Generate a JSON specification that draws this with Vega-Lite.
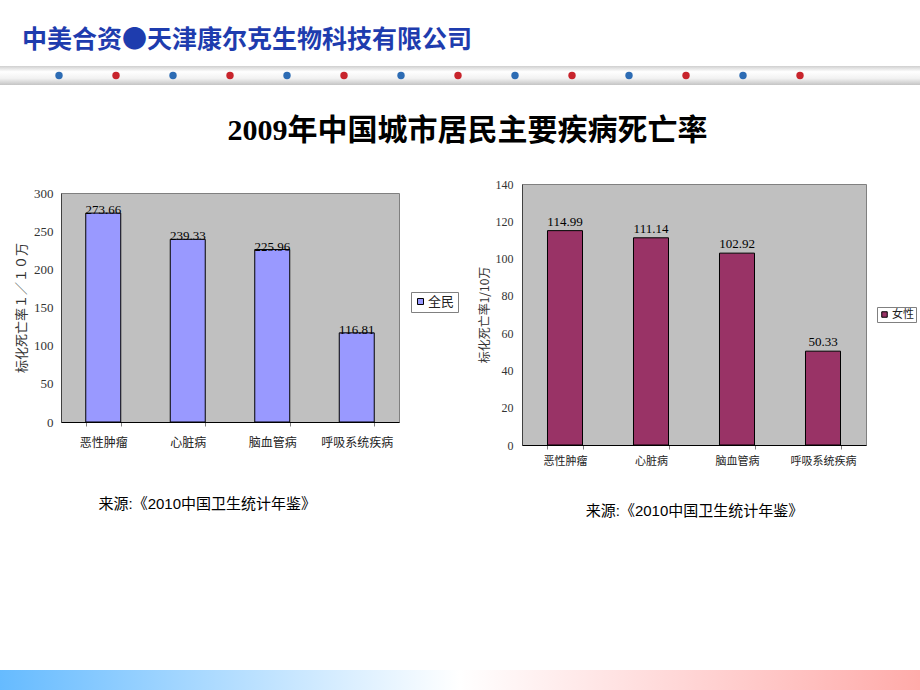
{
  "$schema": "https://vega.github.io/schema/vega-lite/v6.json",
  "background": "white",
  "padding": {"left": 0, "top": 28, "right": 0, "bottom": 0},
  "spacing": 151,
  "resolve": {"scale": {"color": "independent", "x": "independent", "y": "independent"}, "legend": {"color": "independent"}},
  "config": {
    "view": {"stroke": null},
    "axis": {"grid": false},
    "font": "Noto Sans CJK SC"
  },
  "vconcat": [
    {
      "spacing": 32,
      "resolve": {"scale": {"color": "independent", "x": "independent", "y": "independent"}, "legend": {"color": "independent"}},
      "vconcat": [
        {
          "width": 859,
          "height": 19,
          "title": {
            "text": "中美合资●天津康尔克生物科技有限公司",
            "anchor": "start",
            "frame": "group",
            "dx": -39,
            "offset": 13,
            "fontSize": 25,
            "font": "Noto Sans CJK SC",
            "fontWeight": "bold",
            "color": "#1e3cae"
          },
          "view": {"stroke": null},
          "layer": [
            {
              "data": {"values": [{"band": "header"}]},
              "mark": {
                "type": "rect",
                "color": {
                  "gradient": "linear",
                  "x1": 0, "y1": 0, "x2": 0, "y2": 1,
                  "stops": [
                    {"offset": 0, "color": "#cfcfcf"},
                    {"offset": 0.3, "color": "#ffffff"},
                    {"offset": 0.65, "color": "#f2f2f2"},
                    {"offset": 1, "color": "#c4c4c4"}
                  ]
                }
              },
              "encoding": {
                "x": {"datum": -0.035},
                "x2": {"datum": 16.105},
                "y": {"datum": 0},
                "y2": {"datum": 1}
              }
            },
            {
              "data": {
                "values": [
                  {"i": 1, "kind": "blue"}, {"i": 2, "kind": "red"}, {"i": 3, "kind": "blue"}, {"i": 4, "kind": "red"},
                  {"i": 5, "kind": "blue"}, {"i": 6, "kind": "red"}, {"i": 7, "kind": "blue"}, {"i": 8, "kind": "red"},
                  {"i": 9, "kind": "blue"}, {"i": 10, "kind": "red"}, {"i": 11, "kind": "blue"}, {"i": 12, "kind": "red"},
                  {"i": 13, "kind": "blue"}, {"i": 14, "kind": "red"}
                ]
              },
              "mark": {"type": "circle", "size": 55, "opacity": 1},
              "encoding": {
                "x": {"field": "i", "type": "quantitative"},
                "y": {"datum": 0.5},
                "color": {
                  "field": "kind",
                  "type": "nominal",
                  "scale": {"domain": ["blue", "red"], "range": ["#2d6cb4", "#c8242c"]},
                  "legend": null
                }
              }
            }
          ],
          "encoding": {
            "x": {
              "type": "quantitative",
              "scale": {"domain": [1.035, 16.105], "nice": false, "zero": false},
              "axis": {
                "title": "2009年中国城市居民主要疾病死亡率",
                "labels": false, "ticks": false, "domain": false, "grid": false,
                "titleFont": "'Liberation Serif', 'Noto Sans CJK SC'",
                "titleFontSize": 30,
                "titleFontWeight": "bold",
                "titleColor": "#000000",
                "titlePadding": 30,
                "titleX": 406
              }
            },
            "y": {
              "type": "quantitative",
              "scale": {"domain": [0, 1], "nice": false},
              "axis": null
            }
          }
        },
        {
          "resolve": {"scale": {"color": "independent"}, "legend": {"color": "independent"}},
          "spacing": 18,
          "hconcat": [
            {
              "spacing": 1,
              "vconcat": [
                {
                  "width": 338,
                  "height": 1,
                  "data": {"values": [{"spacer": 0}]},
                  "mark": {"type": "point", "opacity": 0, "size": 0, "strokeWidth": 0},
                  "encoding": {}
                },
                {
                  "width": 338,
                  "height": 229,
                  "view": {"fill": "#c0c0c0", "stroke": "#808080", "strokeWidth": 1},
                  "data": {
                    "values": [
                      {"disease": "恶性肿瘤", "rate": 273.66, "group": "全民"},
                      {"disease": "心脏病", "rate": 239.33, "group": "全民"},
                      {"disease": "脑血管病", "rate": 225.96, "group": "全民"},
                      {"disease": "呼吸系统疾病", "rate": 116.81, "group": "全民"}
                    ]
                  },
                  "encoding": {
                    "x": {
                      "field": "disease",
                      "type": "nominal",
                      "sort": null,
                      "scale": {"paddingInner": 0.586, "paddingOuter": 0.293},
                      "axis": {
                        "labelAngle": 0,
                        "labelFontSize": 12,
                        "labelFont": "Noto Sans CJK SC",
                        "labelColor": "#222222",
                        "labelPadding": 11,
                        "domainColor": "#000000",
                        "tickBand": "extent",
                        "tickColor": "#808080",
                        "tickSize": 4,
                        "title": "来源:《2010中国卫生统计年鉴》",
                        "titleFont": "'Liberation Sans', 'Noto Sans CJK SC'",
                        "titleFontSize": 15,
                        "titleFontWeight": "normal",
                        "titleColor": "#000000",
                        "titleAnchor": "start",
                        "titleX": 37,
                        "titlePadding": 48
                      }
                    },
                    "y": {
                      "field": "rate",
                      "type": "quantitative",
                      "scale": {"domain": [0, 300], "nice": false},
                      "axis": {
                        "values": [0, 50, 100, 150, 200, 250, 300],
                        "labelFont": "Liberation Serif",
                        "labelFontSize": 13,
                        "labelColor": "#333333",
                        "labelPadding": 8,
                        "ticks": false,
                        "domainColor": "#404040",
                        "title": "标化死亡率１／１０万",
                        "titleFont": "Noto Sans CJK SC",
                        "titleFontSize": 13,
                        "titleFontWeight": "normal",
                        "titleColor": "#333333",
                        "titlePadding": 5
                      }
                    }
                  },
                  "layer": [
                    {
                      "mark": {"type": "bar", "stroke": "#000000", "strokeWidth": 1},
                      "encoding": {
                        "color": {
                          "field": "group",
                          "type": "nominal",
                          "scale": {"range": ["#9999ff"]},
                          "legend": {
                            "title": null,
                            "orient": "none",
                            "legendX": 350,
                            "legendY": 108,
                            "fillColor": "#ffffff",
                            "strokeColor": "#808080",
                            "padding": 3,
                            "symbolType": "square",
                            "symbolSize": 36,
                            "symbolStrokeColor": "#000000",
                            "symbolStrokeWidth": 1,
                            "labelOffset": 1,
                            "labelFont": "Noto Sans CJK SC",
                            "labelFontSize": 13,
                            "labelColor": "#222222"
                          }
                        }
                      }
                    },
                    {
                      "mark": {"type": "text", "baseline": "alphabetic", "dy": 1, "font": "Liberation Serif", "fontSize": 13, "color": "#000000"},
                      "encoding": {"text": {"field": "rate", "type": "quantitative", "format": ".2f"}}
                    }
                  ]
                }
              ]
            },
            {
              "width": 344,
              "height": 261,
              "view": {"fill": "#c0c0c0", "stroke": "#808080", "strokeWidth": 1},
              "data": {
                "values": [
                  {"disease": "恶性肿瘤", "rate": 114.99, "group": "女性"},
                  {"disease": "心脏病", "rate": 111.14, "group": "女性"},
                  {"disease": "脑血管病", "rate": 102.92, "group": "女性"},
                  {"disease": "呼吸系统疾病", "rate": 50.33, "group": "女性"}
                ]
              },
              "encoding": {
                "x": {
                  "field": "disease",
                  "type": "nominal",
                  "sort": null,
                  "scale": {"paddingInner": 0.593, "paddingOuter": 0.2965},
                  "axis": {
                    "labelAngle": 0,
                    "labelFontSize": 11,
                    "labelFont": "Noto Sans CJK SC",
                    "labelColor": "#222222",
                    "labelPadding": 6,
                    "domainColor": "#000000",
                    "tickBand": "extent",
                    "tickColor": "#808080",
                    "tickSize": 4,
                    "title": "来源:《2010中国卫生统计年鉴》",
                    "titleFont": "'Liberation Sans', 'Noto Sans CJK SC'",
                    "titleFontSize": 15,
                    "titleFontWeight": "normal",
                    "titleColor": "#000000",
                    "titlePadding": 37
                  }
                },
                "y": {
                  "field": "rate",
                  "type": "quantitative",
                  "scale": {"domain": [0, 140], "nice": false},
                  "axis": {
                    "values": [0, 20, 40, 60, 80, 100, 120, 140],
                    "labelFont": "Liberation Serif",
                    "labelFontSize": 12,
                    "labelColor": "#333333",
                    "labelPadding": 9,
                    "ticks": false,
                    "domainColor": "#404040",
                    "title": "标化死亡率1/10万",
                    "titleFont": "Noto Sans CJK SC",
                    "titleFontSize": 12,
                    "titleFontWeight": "normal",
                    "titleColor": "#333333",
                    "titlePadding": 4
                  }
                }
              },
              "layer": [
                {
                  "mark": {"type": "bar", "stroke": "#000000", "strokeWidth": 1},
                  "encoding": {
                    "color": {
                      "field": "group",
                      "type": "nominal",
                      "scale": {"range": ["#993366"]},
                      "legend": {
                        "title": null,
                        "orient": "none",
                        "legendX": 355,
                        "legendY": 123,
                        "fillColor": "#ffffff",
                        "strokeColor": "#808080",
                        "padding": 2,
                        "symbolType": "square",
                        "symbolSize": 30,
                        "symbolStrokeColor": "#000000",
                        "symbolStrokeWidth": 1,
                        "labelOffset": 2,
                        "labelFont": "Noto Sans CJK SC",
                        "labelFontSize": 11,
                        "labelColor": "#222222"
                      }
                    }
                  }
                },
                {
                  "mark": {"type": "text", "baseline": "alphabetic", "dy": -5, "font": "Liberation Serif", "fontSize": 13, "color": "#000000"},
                  "encoding": {"text": {"field": "rate", "type": "quantitative", "format": ".2f"}}
                }
              ]
            }
          ]
        }
      ]
    },
    {
      "width": 859,
      "height": 20,
      "data": {"values": [{"band": "footer"}]},
      "mark": {
        "type": "rect",
        "color": {
          "gradient": "linear",
          "x1": 0, "y1": 0, "x2": 1, "y2": 0,
          "stops": [
            {"offset": 0, "color": "#66bbff"},
            {"offset": 0.5, "color": "#ffffff"},
            {"offset": 1, "color": "#ffaaaa"}
          ]
        }
      },
      "encoding": {
        "x": {"datum": -61, "type": "quantitative", "scale": {"domain": [0, 859], "nice": false, "zero": false}, "axis": null},
        "x2": {"datum": 859},
        "y": {"datum": 0, "type": "quantitative", "scale": {"domain": [0, 1], "nice": false}, "axis": null},
        "y2": {"datum": 1}
      }
    }
  ]
}
